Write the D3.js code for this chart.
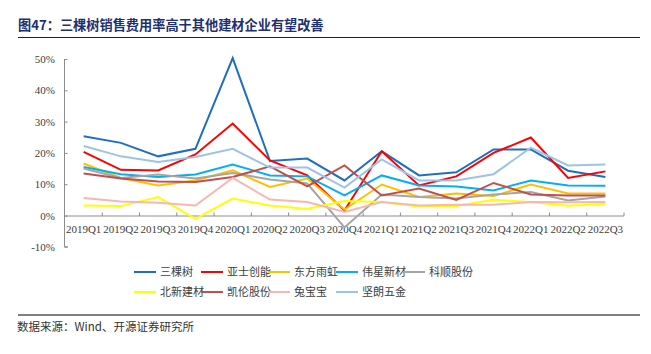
<!DOCTYPE html>
<html><head><meta charset="utf-8">
<script src="https://cdn.jsdelivr.net/npm/d3@7"></script>
<style>
html,body{margin:0;padding:0;background:#fff;}
svg{display:block;}
</style></head>
<body>
<svg id="chart" width="651" height="354"></svg>
<script>
const categories = ["2019Q1","2019Q2","2019Q3","2019Q4","2020Q1","2020Q2","2020Q3","2020Q4","2021Q1","2021Q2","2021Q3","2021Q4","2022Q1","2022Q2","2022Q3"];
const seriesNames = ["三棵树","亚士创能","东方雨虹","伟星新材","科顺股份","北新建材","凯伦股份","兔宝宝","坚朗五金"];
const seriesColors = ["#1F6FBF","#FF0000","#FFC000","#00B0F0","#A5A5A5","#FFFF00","#C0504D","#F4B8B0","#9DC3E6"];
const sankeshu   = [25.3,23.2,18.9,21.3,50.3,17.4,18.2,11.2,20.5,12.8,13.8,21.1,21.1,14.3,12.3];
const yashi      = [20.3,14.6,14.4,19.5,29.4,17.6,12.8,1.6,20.5,9.6,12.5,20.0,24.9,12.0,14.1];
const dongfang   = [16.6,12.0,9.6,11.2,14.4,9.1,11.8,1.9,9.9,5.9,7.0,6.2,9.9,7.0,7.0];
const weixing    = [15.5,13.2,12.3,13.1,16.3,12.8,12.5,6.4,12.8,9.6,9.3,8.0,11.2,9.6,9.5];
const keshun     = [15.0,12.0,13.1,11.8,13.6,11.5,10.2,-3.8,6.7,5.9,5.4,6.7,7.5,4.8,6.1];
const beixin     = [3.2,3.0,5.9,-1.1,5.4,3.2,2.1,4.6,4.3,2.9,3.0,5.0,4.3,3.1,3.7];
const kailun     = [13.4,11.8,10.9,10.7,12.3,15.7,9.3,16.0,6.4,8.6,5.0,10.4,6.7,6.4,6.4];
const tubaobao   = [5.6,4.5,4.1,3.2,12.0,5.1,4.3,1.1,4.3,3.2,3.4,3.4,4.3,4.2,4.3];
const jianlang   = [22.2,18.9,17.1,18.7,21.3,15.3,15.3,8.9,17.9,11.2,11.2,13.2,21.7,16.0,16.3];
const seriesValues = [sankeshu,yashi,dongfang,weixing,keshun,beixin,kailun,tubaobao,jianlang];
const yTicks = [-10,0,10,20,30,40,50];
const titleText = "图47：三棵树销售费用率高于其他建材企业有望改善";
const sourceText = "数据来源：Wind、开源证券研究所";

const svg = d3.select("#chart");
const cjk = "'Noto Sans CJK SC', sans-serif";
const serif = "'Liberation Serif', 'Times New Roman', serif";

// title
svg.append("text").attr("x",18).attr("y",29.5)
  .attr("font-family",cjk).attr("font-weight","bold").attr("font-size",13.2)
  .attr("fill","#1F3070").text(titleText);
svg.append("line").attr("x1",18).attr("x2",640).attr("y1",37.5).attr("y2",37.5)
  .attr("stroke","#222").attr("stroke-width",1);

const x0 = 65, x1 = 624;
const y = d3.scaleLinear().domain([-10,50]).range([246.8,59]);
const x = d3.scaleBand().domain(categories).range([x0,x1]);

// y axis
const yAxis = svg.append("g").attr("transform",`translate(${x0},0)`)
  .call(d3.axisLeft(y).tickValues(yTicks).tickSize(-3).tickFormat(d=>d+"%"));
yAxis.select(".domain").attr("stroke","#8c8c8c").attr("d",`M-0.5,${y(50)}V${y(-10)}H3`);
yAxis.selectAll(".tick line").attr("stroke","#8c8c8c").attr("transform","translate(-0.5,0)");
yAxis.selectAll(".tick text").attr("font-family",serif).attr("font-size",11)
  .attr("fill","#404040").attr("x",-10);

// x axis at 0
const xAxis = svg.append("g").attr("transform",`translate(0,${y(0)})`)
  .call(d3.axisBottom(x).tickSize(0));
xAxis.select(".domain").attr("stroke","#8c8c8c").attr("d",`M${x0},0.5H${x1}`);
xAxis.selectAll(".tick text").attr("font-family",serif).attr("font-size",11)
  .attr("fill","#404040").attr("y",10).attr("dy","0.71em");
// category boundary ticks (inward)
svg.append("g").selectAll("line").data(categories.slice(1).concat(["__end"]))
  .join("line")
  .attr("x1",(d,i)=> x0 + x.step()*(i+1)).attr("x2",(d,i)=> x0 + x.step()*(i+1))
  .attr("y1",y(0)-3).attr("y2",y(0)+0.5)
  .attr("stroke","#8c8c8c").attr("stroke-width",1);

// lines
const line = d3.line().x((d,i)=>x(categories[i])+x.bandwidth()/2).y(d=>y(d));
svg.append("g").selectAll("path").data(seriesValues).join("path")
  .attr("d",d=>line(d)).attr("fill","none")
  .attr("stroke",(d,i)=>seriesColors[i]).attr("stroke-width",2)
  .attr("stroke-linejoin","miter");

// legend
const legX = [134,201,268,336,403];
const legY = [272,292];
const leg = svg.append("g");
seriesNames.forEach((n,i)=>{
  const col = i<5 ? i : i-5;
  const row = i<5 ? 0 : 1;
  const gx = legX[col], gy = legY[row];
  leg.append("line").attr("x1",gx).attr("x2",gx+22).attr("y1",gy).attr("y2",gy)
    .attr("stroke",seriesColors[i]).attr("stroke-width",2);
  leg.append("text").attr("x",gx+26).attr("y",gy+4)
    .attr("font-family",cjk).attr("font-size",11).attr("fill","#404040").text(n);
});

// bottom
svg.append("line").attr("x1",18).attr("x2",640).attr("y1",315).attr("y2",315)
  .attr("stroke","#808080").attr("stroke-width",2);
svg.append("text").attr("x",17).attr("y",331)
  .attr("font-family",cjk).attr("font-size",11.5).attr("fill","#333").text(sourceText);
</script>
</body></html>
